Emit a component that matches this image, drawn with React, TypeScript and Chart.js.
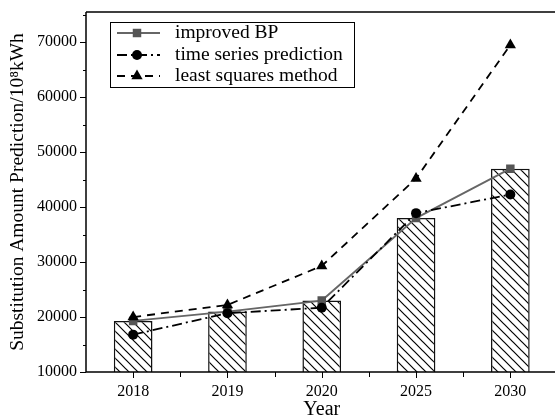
import React, { useEffect, useRef } from "react";
import { Chart, registerables } from "chart.js";

Chart.register(...registerables);

const years = ["2018", "2019", "2020", "2025", "2030"];
const improvedBP = [19300, 21000, 23000, 38000, 47000];
const timeSeries = [16800, 20700, 21700, 38900, 42300];
const leastSquares = [20000, 22200, 29300, 45200, 69500];
const yTickValues = [10000, 20000, 30000, 40000, 50000, 60000, 70000];
const yMinorValues = [15000, 25000, 35000, 45000, 55000, 65000, 75000];

const FONT = "'Liberation Serif', 'Times New Roman', serif";

function makeHatch(): CanvasPattern | string {
  const c = document.createElement("canvas");
  const s = 9;
  c.width = s;
  c.height = s;
  const g = c.getContext("2d");
  if (!g) return "#fff";
  g.fillStyle = "#fff";
  g.fillRect(0, 0, s, s);
  g.strokeStyle = "#000";
  g.lineWidth = 1.2;
  g.beginPath();
  g.moveTo(-2, -2);
  g.lineTo(s + 2, s + 2);
  g.moveTo(-2, s - 2);
  g.lineTo(2, s + 2);
  g.moveTo(s - 2, -2);
  g.lineTo(s + 2, 2);
  g.stroke();
  const p = g.createPattern(c, "repeat");
  return p || "#fff";
}

function drawMarker(ctx: CanvasRenderingContext2D, style: string, x: number, y: number, r: number) {
  ctx.beginPath();
  if (style === "rect") {
    const s = Math.SQRT1_2 * r;
    ctx.rect(x - s, y - s, 2 * s, 2 * s);
  } else if (style === "triangle") {
    ctx.moveTo(x, y - r);
    ctx.lineTo(x + r * Math.sin((2 * Math.PI) / 3), y - r * Math.cos((2 * Math.PI) / 3));
    ctx.lineTo(x + r * Math.sin((4 * Math.PI) / 3), y - r * Math.cos((4 * Math.PI) / 3));
    ctx.closePath();
  } else {
    ctx.arc(x, y, r, 0, Math.PI * 2);
  }
  ctx.fill();
}

const framePlugin = {
  id: "framePlugin",
  afterDraw(chart: any) {
    const ctx = chart.ctx as CanvasRenderingContext2D;
    const { left, right, top, bottom } = chart.chartArea;
    const xs = chart.scales.x;
    const ys = chart.scales.y;
    const W = chart.width;
    ctx.save();
    ctx.strokeStyle = "#000";
    ctx.lineWidth = 1.5;
    ctx.beginPath();
    ctx.moveTo(left, top);
    ctx.lineTo(W, top);
    ctx.moveTo(left, top);
    ctx.lineTo(left, bottom);
    ctx.moveTo(left, bottom);
    ctx.lineTo(W, bottom);
    ctx.stroke();
    ctx.lineWidth = 1;
    ctx.beginPath();
    yTickValues.forEach((v) => {
      const y = Math.round(ys.getPixelForValue(v)) + 0.5;
      ctx.moveTo(left - 6, y);
      ctx.lineTo(left, y);
    });
    yMinorValues.forEach((v) => {
      const y = Math.round(ys.getPixelForValue(v)) + 0.5;
      ctx.moveTo(left - 3, y);
      ctx.lineTo(left, y);
    });
    const n = years.length;
    for (let i = 0; i < n; i++) {
      const x = Math.round(xs.getPixelForTick(i)) + 0.5;
      ctx.moveTo(x, bottom);
      ctx.lineTo(x, bottom + 6);
    }
    const step = (right - left) / n;
    for (let i = 1; i < n; i++) {
      const x = Math.round(left + step * i) + 0.5;
      ctx.moveTo(x, bottom);
      ctx.lineTo(x, bottom + 5);
    }
    ctx.stroke();

    // legend
    const lx = 110, ly = 22, lw = 244, lh = 65;
    ctx.fillStyle = "#fff";
    ctx.fillRect(lx, ly, lw, lh);
    ctx.strokeStyle = "#000";
    ctx.lineWidth = 1;
    ctx.strokeRect(lx + 0.5, ly + 0.5, lw, lh);
    const lines = chart.data.datasets.filter((d: any) => d.type === "line");
    const rows = [33, 55, 76];
    lines.forEach((d: any, i: number) => {
      const y = rows[i];
      ctx.save();
      ctx.strokeStyle = d.borderColor;
      ctx.lineWidth = d.borderWidth;
      ctx.setLineDash(d.borderDash || []);
      ctx.beginPath();
      ctx.moveTo(117, y);
      ctx.lineTo(160, y);
      ctx.stroke();
      ctx.setLineDash([]);
      ctx.fillStyle = d.pointBackgroundColor;
      drawMarker(ctx, d.pointStyle, 137, y, d.pointRadius);
      ctx.restore();
      ctx.fillStyle = "#000";
      ctx.font = `19.5px ${FONT}`;
      ctx.textBaseline = "middle";
      ctx.textAlign = "left";
      ctx.fillText(d.label, 175, y);
    });
    ctx.restore();
  },
};

export default function App() {
  const ref = useRef<HTMLCanvasElement | null>(null);
  useEffect(() => {
    if (!ref.current) return;
    const hatch = makeHatch();
    const chart = new Chart(ref.current, {
      type: "bar",
      data: {
        labels: years,
        datasets: [
          {
            type: "bar",
            label: "bars",
            data: improvedBP,
            backgroundColor: hatch as any,
            borderColor: "#111",
            borderWidth: 1.5,
            barPercentage: 0.41,
            categoryPercentage: 1,
            order: 10,
          },
          {
            type: "line",
            label: "improved BP",
            data: improvedBP,
            borderColor: "#666",
            borderWidth: 1.8,
            pointStyle: "rect",
            pointRadius: 6,
            pointBackgroundColor: "#555",
            pointBorderColor: "#555",
            pointBorderWidth: 0,
            order: 3,
          },
          {
            type: "line",
            label: "time series prediction",
            data: timeSeries,
            borderColor: "#000",
            borderWidth: 1.8,
            borderDash: [10, 4, 2, 4],
            pointStyle: "circle",
            pointRadius: 5,
            pointBackgroundColor: "#000",
            pointBorderColor: "#000",
            pointBorderWidth: 0,
            order: 2,
          },
          {
            type: "line",
            label: "least squares method",
            data: leastSquares,
            borderColor: "#000",
            borderWidth: 1.8,
            borderDash: [8, 6],
            pointStyle: "triangle",
            pointRadius: 6.5,
            pointBackgroundColor: "#000",
            pointBorderColor: "#000",
            pointBorderWidth: 0,
            order: 1,
          },
        ],
      } as any,
      options: {
        animation: false,
        responsive: true,
        maintainAspectRatio: false,
        layout: { padding: { top: 12, right: 0, left: 0, bottom: 0 } },
        plugins: {
          legend: { display: false },
          tooltip: { enabled: false },
        },
        scales: {
          x: {
            type: "category",
            offset: true,
            grid: { display: false, drawTicks: false },
            border: { display: false },
            ticks: {
              color: "#000",
              font: { family: FONT, size: 16 },
              padding: 10,
              maxRotation: 0,
            },
            title: {
              display: true,
              text: "Year",
              color: "#000",
              font: { family: FONT, size: 20, lineHeight: 1 },
              padding: { top: 0, bottom: -3 },
            },
            afterFit: (s: any) => {
              s.height = 45;
              s.paddingLeft = 0;
              s.paddingRight = 0;
            },
          },
          y: {
            type: "linear",
            min: 10000,
            max: 75500,
            grid: { display: false, drawTicks: false },
            border: { display: false },
            ticks: {
              color: "#000",
              font: { family: FONT, size: 16 },
              padding: 9,
              callback: (v: any) => String(v),
            },
            afterBuildTicks: (s: any) => {
              s.ticks = yTickValues.map((v) => ({ value: v }));
            },
            title: {
              display: true,
              text: "Substitution Amount Prediction/10⁸kWh",
              color: "#000",
              font: { family: FONT, size: 19.5, lineHeight: 1.2 },
              padding: { top: 6, bottom: 0 },
            },
            afterFit: (s: any) => {
              s.width = 86;
              s.paddingTop = 0;
              s.paddingBottom = 0;
            },
          },
        },
      },
      plugins: [framePlugin],
    });
    return () => chart.destroy();
  }, []);
  return (
    <div style={{ position: "absolute", left: 0, top: 0, width: 555, height: 417, overflow: "hidden", background: "#fff" }}>
      <div style={{ position: "relative", width: 564, height: 417 }}>
        <canvas ref={ref} />
      </div>
    </div>
  );
}
